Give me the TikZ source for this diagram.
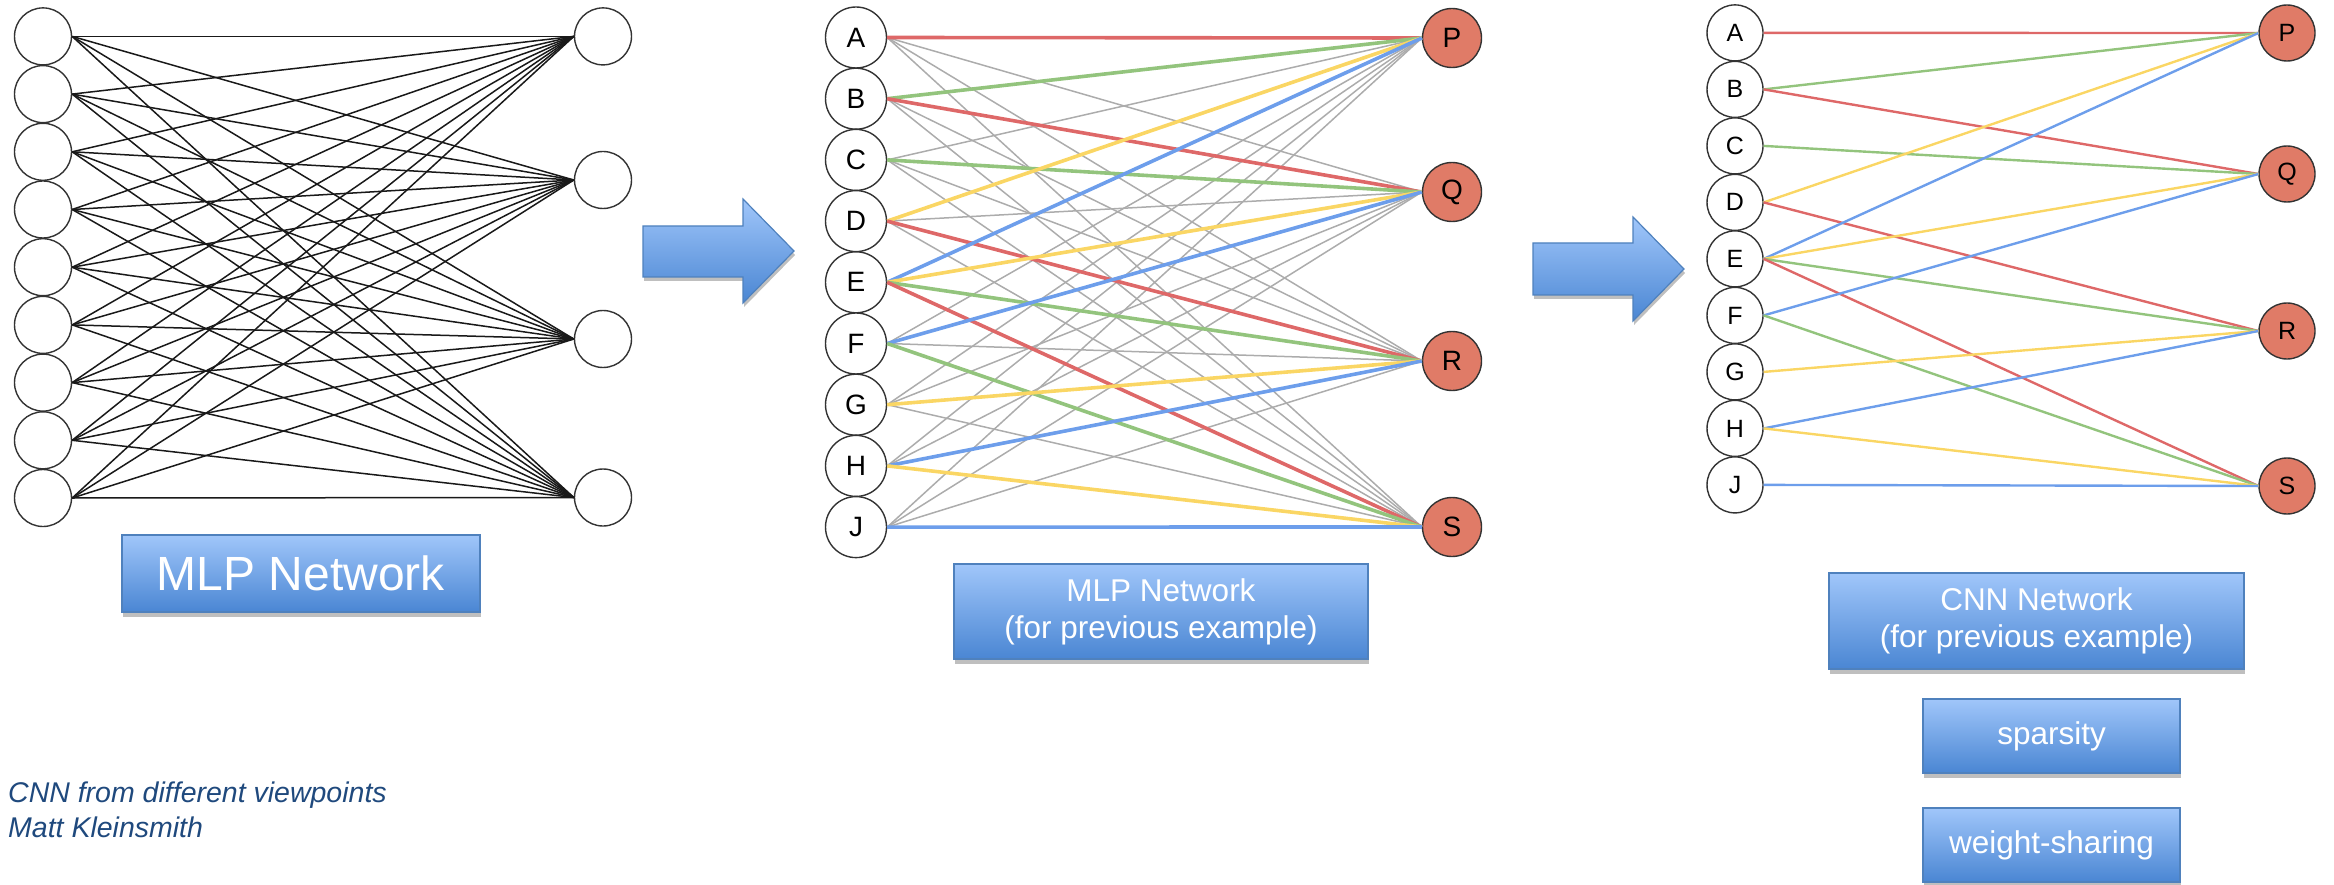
\documentclass[tikz,border=0pt]{standalone}
\usepackage{fontspec}
\setmainfont{Liberation Sans}
\usetikzlibrary{shadows}
\definecolor{boxtop}{RGB}{160,198,250}
\definecolor{boxbot}{RGB}{74,134,211}
\definecolor{boxborder}{RGB}{79,129,189}
\definecolor{salmon}{RGB}{224,123,103}
\definecolor{cred}{RGB}{222,104,104}
\definecolor{cgreen}{RGB}{147,196,125}
\definecolor{cyellow}{RGB}{250,214,100}
\definecolor{cblue}{RGB}{109,158,235}
\definecolor{cgray}{RGB}{172,172,172}
\definecolor{citeblue}{RGB}{31,73,125}
\begin{document}
\begin{tikzpicture}[x=1pt,y=-1pt,
  neuron/.style={circle, draw=black!80, line width=1.4pt, fill=white, inner sep=0pt},
  outn/.style={neuron, fill=salmon},
  bluebox/.style={draw=boxborder, line width=1.5pt, top color=boxtop, bottom color=boxbot,
     text=white, align=center, inner sep=0pt,
     drop shadow={shadow xshift=1pt, shadow yshift=-5pt, opacity=0.25, fill=black}},
  bigarrow/.style={draw=boxborder, line width=1.2pt, top color=boxtop, bottom color=boxbot,
     drop shadow={shadow xshift=1pt, shadow yshift=-4pt, opacity=0.25, fill=black}},
  blackedge/.style={line width=1.5pt, draw=black!90},
  grayedge/.style={line width=1.5pt, draw=cgray},
  thickedge/.style={line width=3.6pt},
  thinedge/.style={line width=2.4pt},
  smallfont/.style={font=\fontsize{31.5}{37}\selectfont}
]
\useasboundingbox (0,0) rectangle (2334,885);

% ---------------- Panel 1 ----------------
\foreach \i in {0,...,8} {
  \node[neuron, minimum size=57pt] (pa\i) at (43, {36.4+57.7*\i}) {};
}
\foreach \l/\y in {0/36.4, 1/180, 2/339, 3/497.5} {
  \node[neuron, minimum size=57pt] (pb\l) at (603, \y) {};
}
\foreach \i in {0,...,8} {
  \foreach \j in {0,...,3} {
    \draw[blackedge] (pa\i.east) -- (pb\j.west);
  }
}
\node[bluebox, minimum width=358pt, minimum height=77pt, font=\fontsize{48}{52}\selectfont]
  (box1) at (301, 573.5) {MLP Network};

% ---------------- Arrows ----------------
\path[bigarrow] (643,226) -- (743,226) -- (743,199) -- (794,251) -- (743,303) -- (743,277) -- (643,277) -- cycle;
\path[bigarrow] (1533,243) -- (1633,243) -- (1633,217) -- (1684,269) -- (1633,321) -- (1633,295) -- (1533,295) -- cycle;

% ---------------- Panel 2 ----------------
\foreach \l [count=\i from 0] in {A,B,C,D,E,F,G,H,J} {
  \node[neuron, minimum size=61pt, font=\fontsize{28}{28}\selectfont] (q\l) at (856, {37.5+61.2*\i}) {\l};
}
\foreach \l/\y in {P/38, Q/192, R/361, S/527} {
  \node[outn, minimum size=59pt, font=\fontsize{28}{28}\selectfont] (q\l) at (1452, \y) {\l};
}
\foreach \a/\b in {A/Q, A/R, A/S, B/R, B/S, C/P, C/R, C/S, D/Q, D/S, F/P, F/R, G/P, G/Q, G/S, H/P, H/Q, J/P, J/Q, J/R} {
  \draw[grayedge] (q\a.east) -- (q\b.west);
}
\foreach \a/\b/\c in {A/P/cred, B/P/cgreen, B/Q/cred, C/Q/cgreen, D/P/cyellow, D/R/cred, E/P/cblue, E/Q/cyellow, E/R/cgreen, E/S/cred, F/Q/cblue, F/S/cgreen, G/R/cyellow, H/R/cblue, H/S/cyellow, J/S/cblue} {
  \draw[thickedge, draw=\c] (q\a.east) -- (q\b.west);
}
\node[bluebox, minimum width=414pt, minimum height=95pt, smallfont]
  (box2) at (1161, 611.5) {MLP Network\\(for previous example)};

% ---------------- Panel 3 ----------------
\foreach \l [count=\i from 0] in {A,B,C,D,E,F,G,H,J} {
  \node[neuron, minimum size=56pt, font=\fontsize{25}{25}\selectfont] (c\l) at (1735, {32.9+56.5*\i}) {\l};
}
\foreach \l/\y in {P/33, Q/174, R/331, S/486} {
  \node[outn, minimum size=56pt, font=\fontsize{25}{25}\selectfont] (c\l) at (2287, \y) {\l};
}
\foreach \a/\b/\c in {A/P/cred, B/P/cgreen, B/Q/cred, C/Q/cgreen, D/P/cyellow, D/R/cred, E/P/cblue, E/Q/cyellow, E/R/cgreen, E/S/cred, F/Q/cblue, F/S/cgreen, G/R/cyellow, H/R/cblue, H/S/cyellow, J/S/cblue} {
  \draw[thinedge, draw=\c] (c\a.east) -- (c\b.west);
}
\node[bluebox, minimum width=415pt, minimum height=96pt, smallfont]
  (box3) at (2036.5, 621) {CNN Network\\(for previous example)};
\node[bluebox, minimum width=257pt, minimum height=74pt, smallfont]
  (box4) at (2051.5, 736) {sparsity};
\node[bluebox, minimum width=257pt, minimum height=74pt, smallfont]
  (box5) at (2051.5, 845) {weight-sharing};

% ---------------- Citation ----------------
\node[anchor=base west, inner sep=0pt, text=citeblue, font=\fontsize{28.5}{34}\selectfont\itshape]
  (cite1) at (8, 802) {CNN from different viewpoints};
\node[anchor=base west, inner sep=0pt, text=citeblue, font=\fontsize{28.5}{34}\selectfont\itshape]
  (cite2) at (8, 837) {Matt Kleinsmith};
\end{tikzpicture}
\end{document}
